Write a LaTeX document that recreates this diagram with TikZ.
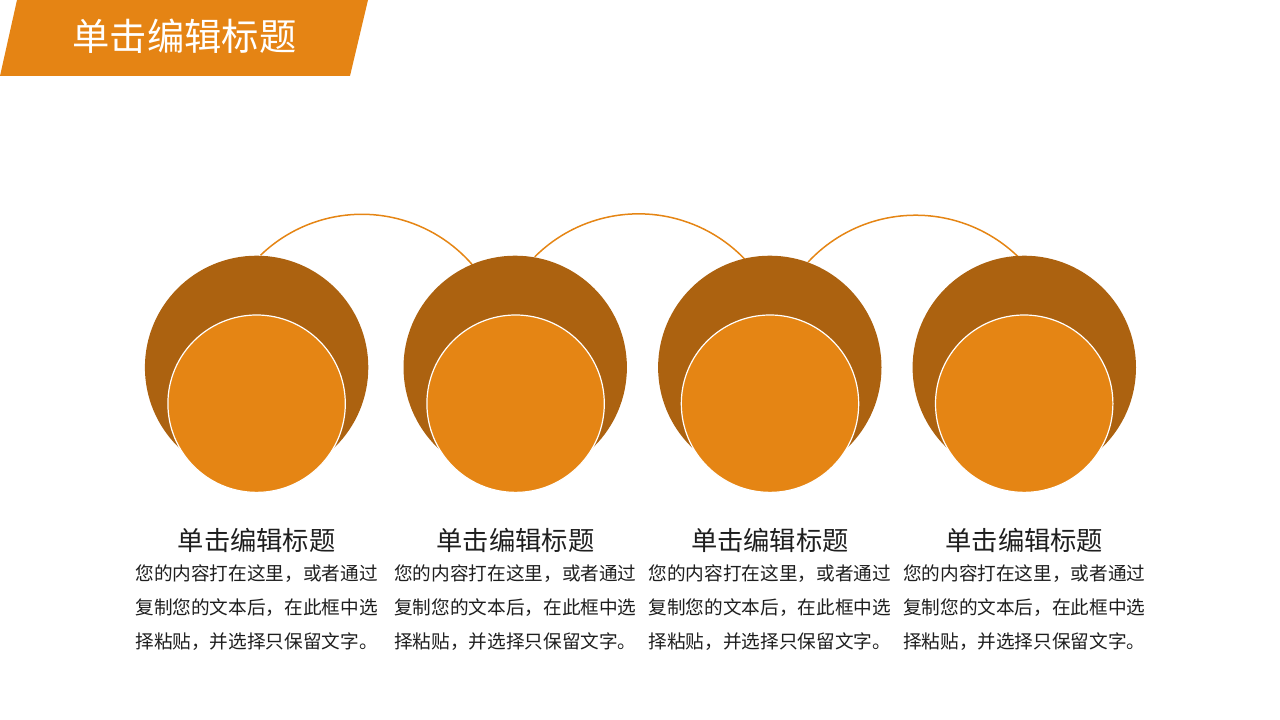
\documentclass[tikz,border=0pt]{standalone}
\usepackage{fontspec}
\setmainfont{Noto Sans CJK SC}
\usetikzlibrary{backgrounds}
\definecolor{bannercol}{HTML}{E58414}
\definecolor{outercol}{HTML}{AC6210}
\definecolor{innercol}{HTML}{E58514}
\definecolor{textcol}{HTML}{1E1E1E}
\tikzset{
  outer/.style={circle,fill=outercol,minimum size=223.4bp,inner sep=0pt},
  inner/.style={circle,fill=innercol,draw=white,line width=1.2bp,minimum size=177.4bp,inner sep=0pt},
  link/.style={draw=innercol,line width=1.5bp},
  head/.style={text=textcol,inner sep=0pt,font=\fontsize{26.3bp}{30bp}\selectfont},
  body/.style={text=textcol,inner sep=0pt,align=left,font=\fontsize{18.65bp}{34bp}\selectfont},
}
\newcommand{\bodytext}{您的内容打在这里，或者通过\\复制您的文本后，在此框中选\\择粘贴，并选择只保留文字。}
\begin{document}
\begin{tikzpicture}[>=latex,line join=bevel,]
  \pgfsetlinewidth{1bp}
  \useasboundingbox (0bp,0bp) rectangle (1280bp,720bp);
%%
  % Banner
  \fill [bannercol] (17bp,720bp) -- (368bp,720bp) -- (350bp,644bp) -- (0bp,644bp) -- cycle;
  \node [text=white,inner sep=0pt,font=\fontsize{37.3bp}{40bp}\selectfont] (title) at (184.5bp,683.5bp) {单击编辑标题};
  % Node: big1
  \node [outer] (big1) at (256.6bp,352.6bp) {};
  \node [inner] (small1) at (256.6bp,316.3bp) {};
  % Node: big2
  \node [outer] (big2) at (515.2bp,352.6bp) {};
  \node [inner] (small2) at (515.6bp,316.3bp) {};
  % Node: big3
  \node [outer] (big3) at (769.8bp,352.6bp) {};
  \node [inner] (small3) at (770bp,316.3bp) {};
  % Node: big4
  \node [outer] (big4) at (1024.3bp,352.6bp) {};
  \node [inner] (small4) at (1024.2bp,316.3bp) {};
  % Edge: big1 -> big2
  \begin{scope}[on background layer]
  \draw [link] (big1.88) arc [start angle=134,end angle=38,radius=146bp];
  % Edge: big2 -> big3
  \draw [link] (big2.80) arc [start angle=135,end angle=38,radius=147bp];
  % Edge: big3 -> big4
  \draw [link] (big3.70) arc [start angle=137,end angle=35,radius=147bp];
  \end{scope}
  % Labels
  \node [head] (head1) at (256.6bp,180bp) {单击编辑标题};
  \node [body] (text1) at (256.6bp,112bp) {\bodytext};
  \node [head] (head2) at (515.4bp,180bp) {单击编辑标题};
  \node [body] (text2) at (515.4bp,112bp) {\bodytext};
  \node [head] (head3) at (769.9bp,180bp) {单击编辑标题};
  \node [body] (text3) at (769.9bp,112bp) {\bodytext};
  \node [head] (head4) at (1024.3bp,180bp) {单击编辑标题};
  \node [body] (text4) at (1024.3bp,112bp) {\bodytext};
%
\end{tikzpicture}
\end{document}
